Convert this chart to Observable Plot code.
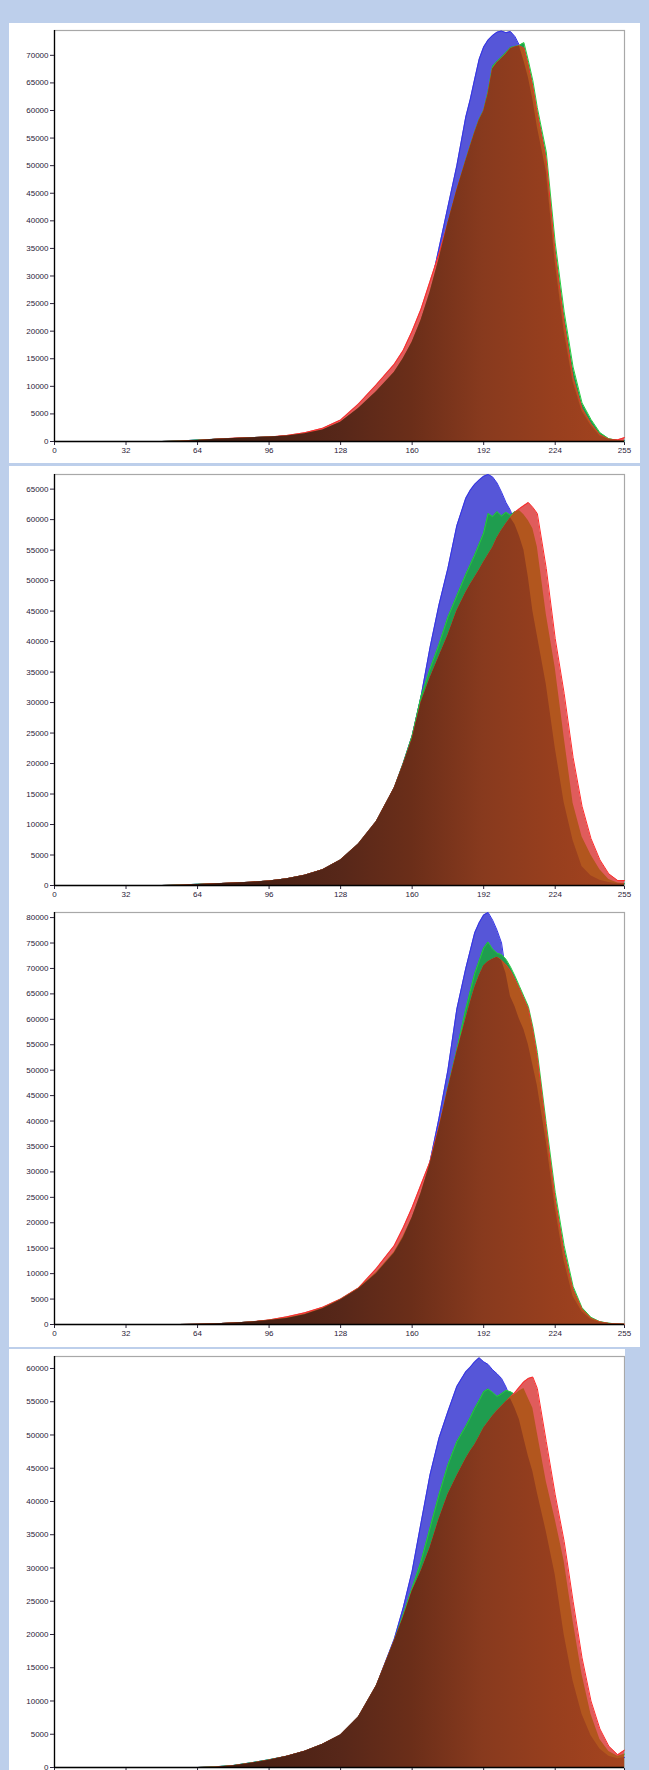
<!DOCTYPE html>
<html><head><meta charset="utf-8">
<script src="https://cdn.jsdelivr.net/npm/d3@7"></script>
<script src="https://cdn.jsdelivr.net/npm/@observablehq/plot@0.6"></script>
<style>
html,body{margin:0;padding:0;background:#bdcfeb;}
body{width:649px;height:1770px;position:relative;overflow:hidden;}
.panel{position:absolute;background:#fff;overflow:hidden;}
.panel svg{display:block;max-width:none !important;}
</style></head><body>
<div id="p1" class="panel" style="left:9px;top:23px;width:631px;height:440px"></div>
<div id="p2" class="panel" style="left:9px;top:466px;width:631px;height:441px"></div>
<div id="p3" class="panel" style="left:9px;top:907px;width:631px;height:440px"></div>
<div id="p4" class="panel" style="left:9px;top:1349px;width:616px;height:421px"></div>
<script>
const bins = [0,40,48,56,64,72,80,88,96,104,112,120,128,136,144,152,156,160,164,168,172,176,180,184,186,188,190,192,194,196,198,200,202,204,206,208,210,212,214,216,220,224,228,232,236,240,244,248,252,255];
const xTicks = [0,32,64,96,128,160,192,224,255];

const B1 = [0,0,0,100,250,400,550,700,800,1000,1400,2100,3500,6000,9000,12500,15000,18000,22000,27500,35000,42500,50000,58800,62000,65700,69300,71500,72800,73600,74200,74400,74100,74300,73400,71800,69000,66000,62000,57000,49000,32500,20000,10800,5500,2900,1000,350,200,150];
const G1 = [0,0,0,100,250,400,550,700,800,1000,1400,2100,3500,6000,9000,12500,15000,18000,22000,27000,33000,39500,45500,51000,53600,56100,58400,60000,63500,68000,68900,69700,70500,71400,71600,71800,72300,69000,65400,60500,52500,36000,23500,13500,7000,4000,1600,500,200,100];
const R1 = [0,0,0,50,200,400,600,700,800,1100,1600,2400,3900,6800,10300,14000,16500,20000,24000,29000,34000,39500,45500,50800,53400,55900,58200,59800,63000,67500,68600,69400,70200,71200,71500,71700,71300,68000,64200,59500,51000,34000,21500,11500,6000,3200,1200,400,300,700];
const yTicks1 = [0,5000,10000,15000,20000,25000,30000,35000,40000,45000,50000,55000,60000,65000,70000];

const B2 = [0,0,0,100,200,300,400,550,750,1100,1700,2600,4200,6800,10500,16000,20000,24500,31000,39000,46000,52000,59000,63500,64800,65800,66500,67100,67400,67000,66000,64500,62800,61500,59200,57300,55000,50500,45000,41000,33000,22600,13600,7400,3100,1600,850,500,300,300];
const G2 = [0,0,0,100,200,300,400,550,750,1100,1700,2600,4200,6800,10500,16000,20000,24500,31000,35500,39500,44000,47500,51000,52600,54200,56000,57800,61000,60500,61300,60600,61200,60700,61300,61500,60800,59800,58500,55500,44500,35700,24300,13500,8000,5000,2600,1000,400,300];
const R2 = [0,0,0,50,150,300,400,550,750,1100,1700,2600,4200,6800,10500,16000,19800,24000,30000,34000,37500,41000,45000,48000,49300,50500,51700,53000,54200,55400,57000,58200,59300,60300,61200,61800,62300,62800,62000,61000,52000,40500,31500,21000,13000,7700,4200,1900,800,800];
const yTicks2 = [0,5000,10000,15000,20000,25000,30000,35000,40000,45000,50000,55000,60000,65000];

const B3 = [0,0,0,0,50,150,300,500,800,1200,1900,3100,4800,7000,10000,14000,17000,21000,26000,32000,40500,50000,62000,70000,73500,77000,79000,80500,81000,79500,77500,75000,69000,64500,62500,60000,58000,55000,51000,47000,36000,23000,12500,5500,2500,1000,400,150,50,0];
const G3 = [0,0,0,0,50,150,300,500,850,1300,2000,3200,4900,7100,10200,14200,17300,21000,25800,31500,38500,46500,54000,62000,65500,69000,71500,74000,75200,73800,73000,72700,71800,70300,68500,66500,64500,62500,58500,53500,39500,26000,15500,7500,3300,1400,550,250,100,50];
const R3 = [0,0,0,0,50,150,300,500,900,1500,2300,3400,5000,7200,11000,15500,19000,23000,27500,32000,38800,46200,53500,60000,63200,66200,68500,70500,71300,71800,72200,71600,70700,69500,67800,66000,64000,62000,57800,52500,38300,24500,14000,6800,3000,1200,500,200,100,50];
const yTicks3 = [0,5000,10000,15000,20000,25000,30000,35000,40000,45000,50000,55000,60000,65000,70000,75000,80000];

const B4 = [0,0,0,0,0,100,300,700,1150,1700,2450,3500,4900,7600,12300,19300,24000,29500,36800,44000,49500,53500,57300,59500,60200,61000,61600,61000,60600,59800,59200,58500,57200,55500,54000,52300,49500,46800,44500,41300,35500,29000,20000,13000,8000,4800,2800,1700,1300,1500];
const G4 = [0,0,0,0,0,100,300,700,1150,1700,2450,3500,4900,7600,12300,19000,23000,27000,31000,36000,41000,45500,49000,51300,52600,54000,55200,56500,56900,56400,55800,56200,56700,56500,56100,56600,57000,55500,54000,50300,43000,37300,31000,22000,14000,8000,4200,2400,1700,2000];
const R4 = [0,0,0,0,0,50,250,650,1100,1700,2450,3500,4900,7600,12300,19000,22500,26500,29500,33000,37300,41000,43800,46400,47500,48500,49700,51000,51900,52800,53600,54300,55000,55700,56400,57200,58000,58500,58700,57000,49000,41000,34000,25000,16500,10000,5800,3200,1900,2600];
const yTicks4 = [0,5000,10000,15000,20000,25000,30000,35000,40000,45000,50000,55000,60000];

const yMax = [74500, 67400, 81000, 61800];

const panels = [
  {id:"p1", b:B1, g:G1, r:R1, ymax:yMax[0], ticks:yTicks1, h:440, mt:7, mb:22},
  {id:"p2", b:B2, g:G2, r:R2, ymax:yMax[1], ticks:yTicks2, h:441, mt:8, mb:22},
  {id:"p3", b:B3, g:G3, r:R3, ymax:yMax[2], ticks:yTicks3, h:440, mt:5, mb:23},
  {id:"p4", b:B4, g:G4, r:R4, ymax:yMax[3], ticks:yTicks4, h:440, mt:7, mb:22}
];

const gradStops = [[0,"#2a1008"],[96,"#4a2114"],[128,"#572719"],[160,"#6b2e19"],[192,"#883a1e"],[224,"#983f1e"],[255,"#a5441f"]];

panels.forEach((p, i) => {
  const rows = bins.map((x, k) => ({
    x, b: p.b[k], g: p.g[k], r: p.r[k],
    rg: Math.min(p.r[k], p.g[k]),
    rgb: Math.min(p.r[k], p.g[k], p.b[k])
  }));
  const gid = "grad" + i;
  const chart = Plot.plot({
    width: 631, height: p.h,
    marginLeft: 45, marginRight: 16, marginTop: p.mt, marginBottom: p.mb,
    style: {fontFamily: "'Liberation Sans', Arial, sans-serif", fontSize: "8px", color: "#2a2238", background: "transparent", overflow: "visible"},
    x: {domain: [0, 255], ticks: xTicks, tickSize: 4, tickPadding: 2, label: null, tickFormat: d => String(d)},
    y: {domain: [0, p.ymax], ticks: p.ticks, tickSize: 4, tickPadding: 2, label: null, tickFormat: d => String(d)},
    marks: [
      Plot.frame({stroke: "#a8a8a8", strokeWidth: 1.2}),
      Plot.areaY(rows, {x: "x", y: "b", fill: "#5656d8"}),
      Plot.lineY(rows, {x: "x", y: "b", stroke: "#3434e6", strokeWidth: 1}),
      Plot.areaY(rows, {x: "x", y: "g", fill: "#1f9d4f"}),
      Plot.lineY(rows, {x: "x", y: "g", stroke: "#26cc3c", strokeWidth: 1}),
      Plot.areaY(rows, {x: "x", y: "r", fill: "#e05c5c"}),
      Plot.lineY(rows, {x: "x", y: "r", stroke: "#ff2a2a", strokeWidth: 1}),
      Plot.areaY(rows, {x: "x", y: "rg", fill: "#b2561e"}),
      Plot.areaY(rows, {x: "x", y: "rgb", fill: `url(#${gid})`}),
      Plot.ruleX([0], {stroke: "#000", strokeWidth: 1.3}),
      Plot.ruleY([0], {stroke: "#000", strokeWidth: 1.3})
    ]
  });
  const xs = chart.scale("x");
  const defs = d3.select(chart).insert("defs", ":first-child");
  const lg = defs.append("linearGradient")
    .attr("id", gid)
    .attr("gradientUnits", "userSpaceOnUse")
    .attr("x1", xs.apply(0)).attr("x2", xs.apply(255))
    .attr("y1", 0).attr("y2", 0);
  gradStops.forEach(([v, c]) => lg.append("stop").attr("offset", v / 255).attr("stop-color", c));
  document.getElementById(p.id).appendChild(chart);
});
</script>
</body></html>
